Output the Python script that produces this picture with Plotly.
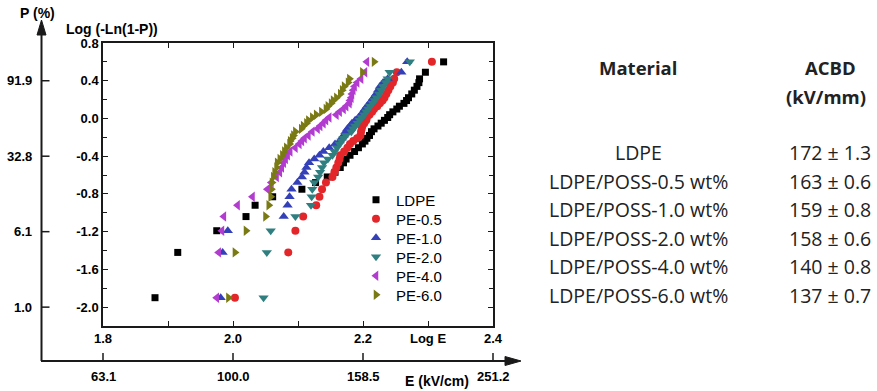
import plotly.graph_objects as go

# ---------------- data ----------------
Y_LEVELS = [-1.90, -1.42, -1.19, -1.04, -0.92, -0.83, -0.75, -0.68, -0.62, -0.57,
            -0.52, -0.47, -0.43, -0.39, -0.35, -0.31, -0.27, -0.24, -0.21, -0.18,
            -0.14, -0.11, -0.08, -0.05, -0.02, 0.01, 0.04, 0.07, 0.10, 0.13,
            0.16, 0.19, 0.22, 0.26, 0.30, 0.34, 0.38, 0.42, 0.49, 0.60]

SERIES_NAMES = ["LDPE", "PE-0.5", "PE-1.0", "PE-2.0", "PE-4.0", "PE-6.0"]

LOGE_LDPE = [1.880, 1.915, 1.975, 2.020, 2.034, 2.061, 2.106, 2.127, 2.145, 2.157,
             2.165, 2.170, 2.174, 2.180, 2.187, 2.193, 2.199, 2.203, 2.206, 2.210,
             2.213, 2.217, 2.223, 2.228, 2.233, 2.238, 2.241, 2.246, 2.252, 2.256,
             2.263, 2.267, 2.270, 2.275, 2.279, 2.283, 2.286, 2.287, 2.296, 2.324]
LOGE_PE05 = [2.003, 2.085, 2.096, 2.108, 2.128, 2.133, 2.137, 2.143, 2.153, 2.156,
             2.159, 2.162, 2.164, 2.165, 2.171, 2.176, 2.180, 2.185, 2.191, 2.196,
             2.197, 2.198, 2.199, 2.202, 2.205, 2.206, 2.210, 2.214, 2.217, 2.222,
             2.226, 2.230, 2.233, 2.236, 2.239, 2.242, 2.246, 2.248, 2.252, 2.306]
LOGE_PE10 = [1.981, 1.984, 1.992, 2.078, 2.084, 2.087, 2.090, 2.099, 2.106, 2.110,
             2.113, 2.117, 2.125, 2.133, 2.139, 2.148, 2.157, 2.164, 2.167, 2.170,
             2.173, 2.176, 2.180, 2.183, 2.188, 2.193, 2.197, 2.200, 2.203, 2.206,
             2.210, 2.213, 2.216, 2.220, 2.223, 2.226, 2.231, 2.238, 2.259, 2.268]
LOGE_PE20 = [2.047, 2.052, 2.058, 2.096, 2.120, 2.121, 2.122, 2.125, 2.131, 2.134,
             2.137, 2.140, 2.146, 2.153, 2.156, 2.160, 2.164, 2.167, 2.170, 2.174,
             2.182, 2.185, 2.188, 2.192, 2.195, 2.198, 2.202, 2.205, 2.208, 2.211,
             2.215, 2.218, 2.221, 2.225, 2.228, 2.231, 2.235, 2.238, 2.241, 2.272]
LOGE_PE40 = [1.975, 1.978, 1.983, 1.986, 2.007, 2.030, 2.053, 2.059, 2.067, 2.072,
             2.075, 2.078, 2.081, 2.084, 2.088, 2.096, 2.102, 2.106, 2.110, 2.116,
             2.122, 2.130, 2.134, 2.139, 2.143, 2.148, 2.159, 2.164, 2.170, 2.174,
             2.179, 2.180, 2.182, 2.183, 2.185, 2.187, 2.191, 2.197, 2.203, 2.206]
LOGE_PE60 = [1.993, 2.003, 2.020, 2.050, 2.055, 2.058, 2.059, 2.060, 2.062, 2.064,
             2.067, 2.068, 2.072, 2.076, 2.079, 2.082, 2.087, 2.088, 2.091, 2.093,
             2.096, 2.105, 2.108, 2.113, 2.116, 2.122, 2.128, 2.136, 2.143, 2.146,
             2.151, 2.154, 2.159, 2.165, 2.168, 2.171, 2.177, 2.179, 2.199, 2.217]

X_TICK_VALS = [1.8, 2.0, 2.2, 2.3, 2.4]
X_TICK_TEXT = ["1.8", "2.0", "2.2", "Log E", "2.4"]
X_MINOR_VALS = [1.9, 2.1]
Y_TICK_VALS = [-2.0, -1.6, -1.2, -0.8, -0.4, 0.0, 0.4, 0.8]
Y_MINOR_VALS = [-1.8, -1.4, -1.0, -0.6, -0.2, 0.2, 0.6]

P_TICK_VALS = [0.4, -0.4, -1.2, -2.0]
P_TICK_TEXT = ["91.9", "32.8", "6.1", "1.0"]
E_TICK_VALS = [1.8, 2.0, 2.2, 2.4]
E_TICK_TEXT = ["63.1", "100.0", "158.5", "251.2"]

MATERIALS = ["LDPE", "LDPE/POSS-0.5 wt%", "LDPE/POSS-1.0 wt%",
             "LDPE/POSS-2.0 wt%", "LDPE/POSS-4.0 wt%", "LDPE/POSS-6.0 wt%"]
ACBD_MEAN = [172, 163, 159, 158, 140, 137]
ACBD_SD = [1.3, 0.6, 0.8, 0.6, 0.8, 0.7]

# ---------------- style ----------------
COLORS = ["#000000", "#e3262a", "#3440b8", "#2f7f80", "#b23ccf", "#7a7a14"]
SYMBOLS = ["square", "circle", "triangle-up", "triangle-down", "triangle-left", "triangle-right"]
SIZES = [7, 8, 9, 9, 9, 9]

XR = [1.8, 2.4]
YR = [-2.2, 0.8]
W, H = 877, 391
ML, MR, MT, MB = 103, 384, 43, 65
PW = W - ML - MR
PH = H - MT - MB
FONT = "Liberation Sans, Arial, sans-serif"
TFONT = "Open Sans, Noto Sans, sans-serif"


def px_x(px):
    return (px - ML) / PW


def px_y(py):
    return (H - MB - py) / PH


def val_x(v):
    return (v - XR[0]) / (XR[1] - XR[0])


def val_y(v):
    return (v - YR[0]) / (YR[1] - YR[0])


series = [LOGE_LDPE, LOGE_PE05, LOGE_PE10, LOGE_PE20, LOGE_PE40, LOGE_PE60]
LEGEND_IDS = ["legend", "legend2", "legend3", "legend4", "legend5", "legend6"]

fig = go.Figure()
for name, xs, col, sym, sz, lid in zip(SERIES_NAMES, series, COLORS, SYMBOLS, SIZES, LEGEND_IDS):
    fig.add_trace(go.Scatter(
        x=xs, y=Y_LEVELS, mode="markers", name=name, legend=lid,
        marker=dict(color=col, symbol=sym, size=sz, line=dict(width=0)),
    ))

shapes = []
annotations = []
LINE_C = "#1a1a1a"

# outer left axis (P %)
ox = px_x(41.5)
shapes.append(dict(type="line", xref="paper", yref="paper", x0=ox, x1=ox,
                   y0=px_y(361), y1=px_y(32), line=dict(color=LINE_C, width=2)))
shapes.append(dict(type="path", xref="paper", yref="paper",
                   path=f"M {ox - 4.5 / PW},{px_y(35)} L {ox + 4.5 / PW},{px_y(35)} L {ox},{px_y(20)} Z",
                   fillcolor=LINE_C, line=dict(color=LINE_C, width=1)))
for v, t in zip(P_TICK_VALS, P_TICK_TEXT):
    shapes.append(dict(type="line", xref="paper", yref="paper", x0=ox, x1=ox + 8 / PW,
                       y0=val_y(v), y1=val_y(v), line=dict(color=LINE_C, width=1.5)))
    annotations.append(dict(xref="paper", yref="paper", x=px_x(34), y=val_y(v), text=t,
                            showarrow=False, xanchor="right", yanchor="middle",
                            font=dict(family=FONT, size=13, color="black", weight="bold")))
annotations.append(dict(xref="paper", yref="paper", x=px_x(37), y=px_y(13), text="P (%)",
                        showarrow=False, xanchor="center", yanchor="middle",
                        font=dict(family=FONT, size=14, color="black", weight="bold")))

# outer bottom axis (E kV/cm)
oy = px_y(361)
shapes.append(dict(type="line", xref="paper", yref="paper", x0=px_x(41), x1=px_x(508),
                   y0=oy, y1=oy, line=dict(color=LINE_C, width=2)))
shapes.append(dict(type="path", xref="paper", yref="paper",
                   path=f"M {px_x(505)},{oy + 4.5 / PH} L {px_x(505)},{oy - 4.5 / PH} L {px_x(521)},{oy} Z",
                   fillcolor=LINE_C, line=dict(color=LINE_C, width=1)))
for v, t in zip(E_TICK_VALS, E_TICK_TEXT):
    shapes.append(dict(type="line", xref="paper", yref="paper", x0=val_x(v), x1=val_x(v),
                       y0=oy, y1=oy + 8 / PH, line=dict(color=LINE_C, width=1.5)))
    annotations.append(dict(xref="paper", yref="paper", x=val_x(v), y=px_y(376), text=t,
                            showarrow=False, xanchor="center", yanchor="middle",
                            font=dict(family=FONT, size=13, color="black", weight="bold")))
annotations.append(dict(xref="paper", yref="paper", x=px_x(437), y=px_y(381), text="E (kV/cm)",
                        showarrow=False, xanchor="center", yanchor="middle",
                        font=dict(family=FONT, size=14, color="black", weight="bold")))

# inner y title
annotations.append(dict(xref="paper", yref="paper", x=px_x(64), y=px_y(29), text="Log (-Ln(1-P))",
                        showarrow=False, xanchor="left", yanchor="middle",
                        font=dict(family=FONT, size=14, color="black", weight="bold")))

# table on the right
annotations.append(dict(xref="paper", yref="paper", x=px_x(638), y=px_y(68), text="Material",
                        showarrow=False, xanchor="center", yanchor="middle",
                        font=dict(family=TFONT, size=18.5, color="#222", weight="bold")))
annotations.append(dict(xref="paper", yref="paper", x=px_x(830), y=px_y(68), text="ACBD",
                        showarrow=False, xanchor="center", yanchor="middle",
                        font=dict(family=TFONT, size=18.5, color="#222", weight="bold")))
annotations.append(dict(xref="paper", yref="paper", x=px_x(826), y=px_y(96), text="(kV/mm)",
                        showarrow=False, xanchor="center", yanchor="middle",
                        font=dict(family=TFONT, size=18.5, color="#222", weight="bold")))
ROW_Y = [152, 181, 209.5, 238, 266.5, 295]
for i, (m, mu, sd) in enumerate(zip(MATERIALS, ACBD_MEAN, ACBD_SD)):
    annotations.append(dict(xref="paper", yref="paper", x=px_x(638), y=px_y(ROW_Y[i]), text=m,
                            showarrow=False, xanchor="center", yanchor="middle",
                            font=dict(family=TFONT, size=19.5, color="#222")))
    annotations.append(dict(xref="paper", yref="paper", x=px_x(873), y=px_y(ROW_Y[i]),
                            text=f"{mu} \u00b1 {sd:.1f}",
                            showarrow=False, xanchor="right", yanchor="middle",
                            font=dict(family=TFONT, size=19.5, color="#222")))

axis_common = dict(showgrid=False, zeroline=False, showline=True, linecolor=LINE_C,
                   linewidth=1.5, mirror="ticks", ticks="inside", ticklen=5,
                   tickwidth=1.2, tickcolor=LINE_C,
                   tickfont=dict(family=FONT, size=13, color="black", weight="bold"))

layout_legends = {}
for i, lid in enumerate(LEGEND_IDS):
    layout_legends[lid] = dict(x=px_x(356), y=px_y(200 + 19 * i), xanchor="left", yanchor="middle",
                               bgcolor="rgba(0,0,0,0)", borderwidth=0,
                               font=dict(family=FONT, size=15, color="black"))

fig.update_layout(
    width=W, height=H,
    margin=dict(l=ML, r=MR, t=MT, b=MB, pad=0),
    paper_bgcolor="white", plot_bgcolor="white",
    xaxis=dict(range=XR, tickmode="array", tickvals=X_TICK_VALS, ticktext=X_TICK_TEXT,
               minor=dict(tickmode="array", tickvals=X_MINOR_VALS, ticks="inside", ticklen=5,
                          tickcolor=LINE_C, tickwidth=1.2),
               **axis_common),
    yaxis=dict(range=YR, tickmode="array", tickvals=Y_TICK_VALS,
               ticktext=[f"{v:.1f}" for v in Y_TICK_VALS],
               minor=dict(tickmode="array", tickvals=Y_MINOR_VALS, ticks="inside", ticklen=4,
                          tickcolor=LINE_C, tickwidth=1.2),
               **axis_common),
    showlegend=True,
    shapes=shapes,
    annotations=annotations,
    **layout_legends,
)

fig.write_html("out.html", config={"displayModeBar": False},
               post_script="document.body.style.margin='0';document.body.style.padding='0';")
